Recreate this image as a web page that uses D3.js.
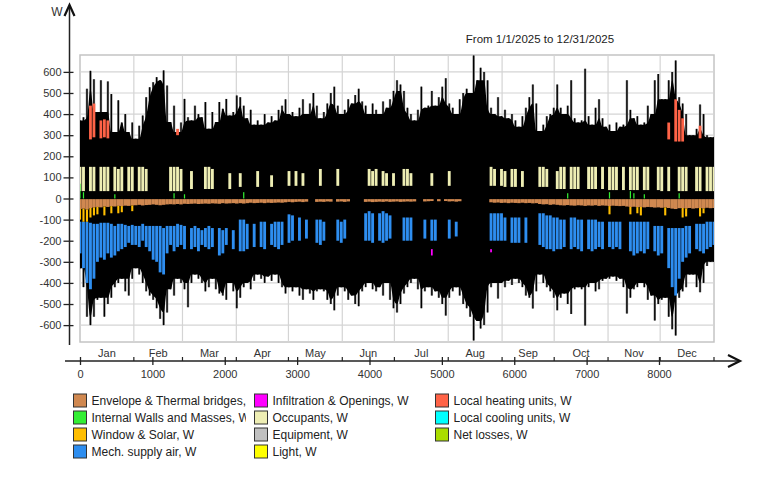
<!DOCTYPE html>
<html lang="en">
<head>
<meta charset="UTF-8">
<title>Heat balance</title>
<script src="https://d3js.org/d3.v7.min.js"></script>
<style>
  body { margin: 0; background: #fff; }
  text { font-family: "Liberation Sans", Arial, sans-serif; }
</style>
</head>
<body>
<script>
// values every 2 days (index i -> hour i*8760/182)
var topW = [370,385,520,605,565,410,560,410,555,495,315,465,360,400,315,360,283,345,393,480,527,551,575,560,607,535,362,440,315,360,472,385,370,440,400,385,457,330,410,362,457,425,472,393,410,488,
  480,440,380,420,350,370,350,400,360,390,370,420,440,470,400,410,390,430,470,400,450,500,440,380,410,450,500,530,440,400,420,470,450,490,520,460,440,400,450,420,400,460,430,470,510,560,
  540,510,430,400,370,420,530,430,440,510,440,480,530,570,450,430,400,470,500,520,500,678,560,620,600,560,430,400,480,390,420,380,400,370,340,390,430,480,540,450,320,350,390,400,430,540,
  430,400,440,560,380,360,370,615,390,350,430,470,380,340,350,320,360,340,350,560,420,380,390,350,360,440,400,560,590,470,470,560,600,654,480,450,400,300,300,330,445,400,300,290,290];
var botW = [-330,-420,-560,-600,-560,-480,-470,-560,-500,-470,-420,-400,-380,-440,-460,-380,-330,-360,-400,-440,-460,-480,-520,-570,-600,-540,-430,-460,-380,-400,-430,-515,-400,-360,-380,-400,-440,-420,-380,-430,-450,-460,-480,-400,-440,-520,
  -470,-420,-400,-430,-390,-360,-380,-400,-370,-390,-360,-400,-420,-450,-420,-440,-420,-460,-480,-430,-450,-480,-440,-430,-440,-480,-500,-530,-460,-420,-440,-480,-460,-500,-510,-440,-420,-400,-430,-440,-420,-460,-400,-480,-520,-540,
  -500,-450,-420,-400,-380,-430,-520,-440,-420,-460,-440,-470,-500,-555,-470,-440,-420,-460,-500,-520,-560,-673,-580,-616,-600,-540,-420,-400,-474,-400,-420,-390,-410,-380,-400,-420,-460,-470,-521,-440,-360,-400,-420,-440,-470,-530,
  -470,-450,-500,-547,-430,-420,-430,-602,-420,-400,-440,-430,-390,-380,-380,-370,-390,-380,-420,-545,-470,-430,-420,-400,-420,-480,-460,-578,-500,-480,-470,-560,-620,-649,-470,-440,-420,-360,-360,-420,-444,-400,-320,-300,-300];

// Occupants, visible top (0 = hidden behind outlines)
var occTop = [150,150,0,150,150,0,150,150,150,0,150,140,150,0,150,150,0,150,150,140,0,0,0,0,0,0,150,150,150,140,0,0,130,0,0,0,150,150,140,0,0,0,0,120,0,0,
  120,0,0,0,0,130,0,0,0,110,0,0,0,0,130,0,130,0,120,0,0,0,0,140,0,0,0,0,140,0,0,0,0,0,0,0,0,140,130,140,0,130,120,0,120,0,
  0,140,140,120,0,0,0,0,0,120,0,0,0,0,130,0,0,0,0,0,0,0,0,0,0,0,150,140,0,140,130,0,140,140,0,130,0,0,0,0,150,150,140,0,0,130,
  150,150,0,150,150,150,0,0,150,150,150,0,150,0,150,150,150,0,150,0,150,150,150,0,150,150,0,0,150,150,0,150,0,0,150,150,150,0,0,150,150,0,150,150,150];
// Occupants, visible base per month
var occBase = [35,35,45,55,60,60,60,60,55,45,40,35];

// Envelope & Thermal bridges (0 = hidden)
var envBot = [-50,-48,-52,-45,-42,-40,-42,-38,-40,-36,-38,-35,-36,-34,-35,-33,
  -32,-30,-33,-31,-30,-28,-30,-32,-30,-28,-27,-28,-26,-28,-25,-26,-25,-24,-26,-25,-24,-25,-23,-24,-25,-22,-24,-23,-22,-24,
  -22,-24,-22,-20,-22,-21,-20,-22,-20,-21,-20,-19,-20,-18,
  -16,-18,-16,-15,-17,-15,0,0,-16,-15,-16,-14,-15,0,-15,-14,-16,-14,0,0,0,0,
  -16,-15,-17,-16,-15,-16,-14,-16,-15,-14,
  -16,-15,-14,-15,-14,0,0,-14,-13,-12,0,-13,0,-12,-14,-13,-15,-13,0,0,0,0,0,0,0,0,
  -18,-20,-19,-21,-20,-22,-20,-21,-22,-20,-22,-21,-23,-22,-26,-28,-27,-30,-28,-30,
  -32,-33,-31,-33,-34,-32,-33,-35,-33,-34,-32,-35,-33,-34,-36,-34,-35,-36,-35,
  -38,-40,-39,-41,-40,-42,-40,-41,-43,-42,-44,-42,-45,-48,-50,
  -46,-45,-47,-45,-48,-46,-45,-47,-44,-46,-45];

// Mech. supply air, visible top and bottom (0 = hidden)
var airTop = [-110,-110,-110,-115,-120,-120,-115,-115,-115,-120,-130,-120,-120,-125,-130,-125,-130,-130,-120,-130,-130,-130,-130,-130,-140,-130,-130,-130,-120,-125,-130,0,-140,-130,-140,-150,-140,-130,-140,0,-140,-150,-140,0,-150,0,
  -100,-100,-120,0,-120,0,-110,-110,0,-120,-110,-110,-110,0,-75,-80,0,-90,0,-100,0,0,-100,-100,-110,0,0,0,-100,-110,-100,0,0,0,0,0,-70,-60,-70,0,-70,-60,-70,-80,0,0,
  0,-90,-90,-90,0,0,0,-100,0,-100,-100,0,0,0,-100,0,-110,0,0,0,0,0,0,0,0,0,-70,-70,-70,-70,-90,0,-90,-90,-90,0,-90,0,0,0,-70,-70,-80,-80,-90,-90,
  -100,-100,0,-90,-90,-100,-100,0,-100,-100,-100,-110,-110,0,-110,-110,-110,-110,0,0,-110,-110,-110,-110,-110,-110,0,-130,-130,-130,0,-140,-140,-140,-140,-140,-130,-130,0,-120,-120,-120,-110,-110,-110];
var airBot = [-260,-330,-400,-430,-380,-300,-280,-290,-260,-280,-270,-250,-240,-230,-210,-220,-220,-230,-200,-230,-250,-290,-300,-350,-360,-260,-220,-250,-230,-220,-240,0,-240,-230,-250,-220,-230,-240,-230,0,-270,-260,-220,0,-240,0,
  -250,-250,-240,0,-230,0,-230,-240,0,-220,-230,-240,-220,0,-210,-200,0,-200,0,-190,0,0,-210,-220,-200,0,0,0,-200,-210,-190,0,0,0,0,0,-200,-200,-210,0,-200,-210,-200,-190,0,0,
  0,-200,-200,-200,0,0,0,-190,0,-200,-200,0,0,0,-190,0,-180,0,0,0,0,0,0,0,0,0,-200,-200,-200,-200,-200,0,-210,-210,-210,0,-210,0,0,0,-220,-230,-240,-240,-250,-240,
  -240,-230,0,-240,-230,-240,-250,0,-240,-250,-240,-230,-240,0,-230,-240,-230,-240,0,0,-250,-270,-260,-250,-260,-240,0,-250,-270,-260,0,-330,-420,-460,-380,-300,-280,-260,0,-240,-250,-260,-240,-230,-220];

// sparse series: index, value(s)
var solarIdx = [0,1,2,3,4,5,7,9,11,12,15,152,158,160,161,168,173,174,178,179];
var solarW   = [-100,-110,-110,-90,-80,-75,-80,-70,-70,-65,-60,-75,-75,-70,-80,-80,-90,-85,-85,-70];
var heatIdx  = [3,4,6,7,8,28,169,171,172,173,178];
var heatLo   = [280,290,285,290,285,300,280,270,270,270,285];
var heatHi   = [440,450,370,375,370,330,360,470,420,380,345];
var wallIdx  = [0,1,10,27,30,47,140,152,158,159,162,172];
var wallW    = [70,30,20,25,20,30,25,30,35,25,20,25];
var infIdx   = [101,118];
var infLo    = [-270,-255];
var infHi    = [-240,-240];

var monthEdges = [0,744,1416,2160,2880,3624,4344,5088,5832,6552,7296,8016,8760];
var monthNames = ["Jan","Feb","Mar","Apr","May","Jun","Jul","Aug","Sep","Oct","Nov","Dec"];
var yTicks = [-600,-500,-400,-300,-200,-100,0,100,200,300,400,500,600];
var xTicks = [0,1000,2000,3000,4000,5000,6000,7000,8000];

var legendNames = ["Envelope & Thermal bridges, W","Internal Walls and Masses, W","Window & Solar, W","Mech. supply air, W",
  "Infiltration & Openings, W","Occupants, W","Equipment, W","Light, W",
  "Local heating units, W","Local cooling units, W","Net losses, W"];
var legendColors = ["#D08850","#33EE33","#FFBE00","#2E8EF0","#FF00FF","#EEEEB4","#C0C0C0","#FFFF00","#FF6347","#00FFFF","#AADD00"];

var width = 768, height = 483;
var svg = d3.select("body").append("svg").attr("width", width).attr("height", height);

var xs = d3.scaleLinear().domain([0, 8760]).range([80, 714]);
var ys = d3.scaleLinear().domain([-680, 680]).range([342, 55]);
var step = 8760 / (topW.length - 1);
function hourOf(i) { return i * step; }
function monthOf(i) { var h = hourOf(i); var m = 0; while (m < 11 && h >= monthEdges[m + 1]) m++; return m; }

// plot frame + grid
svg.append("rect").attr("x", 80).attr("y", 55).attr("width", 634).attr("height", 287)
  .attr("fill", "#fff").attr("stroke", "#c4c4c4").attr("stroke-width", 1.5);
svg.append("g").selectAll("line").data(yTicks).join("line")
  .attr("x1", 80).attr("x2", 714).attr("y1", d => ys(d)).attr("y2", d => ys(d))
  .attr("stroke", "#d4d4d4").attr("stroke-width", 1.2);
svg.append("g").selectAll("line").data(monthEdges.slice(1, 12)).join("line")
  .attr("x1", d => xs(d)).attr("x2", d => xs(d)).attr("y1", 55).attr("y2", 342)
  .attr("stroke", "#d4d4d4").attr("stroke-width", 1.2);

svg.append("defs").append("clipPath").attr("id", "plotclip").append("rect")
  .attr("x", 80).attr("y", 55).attr("width", 634).attr("height", 287);
var g = svg.append("g").attr("clip-path", "url(#plotclip)");

// peaks: thin hourly spikes, gray edged
var spikes = g.append("g");
[["#8a8a8a", 2.4], ["#000", 1.3]].forEach(function (s) {
  spikes.append("g").selectAll("line").data(topW).join("line")
    .attr("x1", (d, i) => xs(hourOf(i))).attr("x2", (d, i) => xs(hourOf(i)))
    .attr("y1", d => ys(d)).attr("y2", (d, i) => ys(botW[i]))
    .attr("stroke", s[0]).attr("stroke-width", s[1]);
});

// black body of the hourly outlines: runs along the valleys between peaks
function valley(arr, pick) {
  return arr.map((d, i) => pick(arr[Math.max(i - 1, 0)], d, arr[Math.min(i + 1, arr.length - 1)]));
}
var bodyTop = valley(topW, Math.min);
var bodyBot = valley(botW, Math.max);
var area = d3.area()
  .curve(d3.curveMonotoneX)
  .x((d, i) => xs(hourOf(i)))
  .y0((d, i) => ys(bodyBot[i]))
  .y1(d => ys(d));
g.append("path").datum(bodyTop).attr("d", area).attr("fill", "#000");

var stepPx = xs(step) - xs(0);
function bars(rows, color, frac) {
  var bw = stepPx * frac;
  g.append("g").selectAll("rect").data(rows).join("rect")
    .attr("x", d => xs(hourOf(d.i)) - bw / 2)
    .attr("width", bw)
    .attr("y", d => ys(Math.max(d.lo, d.hi)))
    .attr("height", d => Math.abs(ys(d.lo) - ys(d.hi)))
    .attr("fill", color);
}

bars(envBot.map((v, i) => ({i: i, lo: v, hi: -3})).filter(d => d.lo < 0), "#D08850", 1.02);
bars(airTop.map((v, i) => ({i: i, lo: airBot[i], hi: v})).filter(d => d.hi < 0), "#2E8EF0", 0.82);
bars(occTop.map((v, i) => ({i: i, lo: occBase[monthOf(i)], hi: v})).filter(d => d.hi > 0), "#EEEEB4", 0.82);
bars(solarIdx.map((k, j) => ({i: k, lo: solarW[j], hi: envBot[k] || -40})), "#FFBE00", 0.6);
bars(heatIdx.map((k, j) => ({i: k, lo: heatLo[j], hi: heatHi[j]})), "#FF6347", 0.8);
bars(wallIdx.map((k, j) => ({i: k, lo: 0, hi: wallW[j]})), "#33EE33", 0.35);
bars(infIdx.map((k, j) => ({i: k, lo: infLo[j], hi: infHi[j]})), "#FF00FF", 0.5);

// y axis
var yAx = svg.append("g").attr("transform", "translate(69.5,0)")
  .call(d3.axisLeft(ys).tickValues(yTicks).tickSize(6).tickPadding(2).tickFormat(d => String(d)));
yAx.select(".domain").remove();
yAx.selectAll(".tick line").attr("x1", 4).attr("stroke", "#222").attr("stroke-width", 1.3);
yAx.selectAll(".tick text").attr("font-size", 11).attr("fill", "#333")
  .style("font-family", "'Liberation Sans', Arial, sans-serif");
svg.append("line").attr("x1", 69.5).attr("x2", 69.5).attr("y1", 345).attr("y2", 6)
  .attr("stroke", "#222").attr("stroke-width", 1.5);
svg.append("path").attr("d", "M64.5,16 L69.5,5 L74.5,16").attr("fill", "none")
  .attr("stroke", "#111").attr("stroke-width", 2.2);
svg.append("text").attr("x", 57).attr("y", 16).attr("text-anchor", "middle")
  .attr("font-size", 12).attr("fill", "#333").text("W");

// x axis
var xAx = svg.append("g").attr("transform", "translate(0,361)")
  .call(d3.axisBottom(xs).tickValues(xTicks).tickSize(4).tickPadding(5).tickFormat(d => String(d)));
xAx.select(".domain").remove();
xAx.selectAll(".tick line").attr("y1", -4).attr("stroke", "#222").attr("stroke-width", 1.3);
xAx.selectAll(".tick text").attr("font-size", 11).attr("fill", "#333")
  .style("font-family", "'Liberation Sans', Arial, sans-serif");
svg.append("line").attr("x1", 65).attr("x2", 739).attr("y1", 361).attr("y2", 361)
  .attr("stroke", "#222").attr("stroke-width", 1.5);
svg.append("path").attr("d", "M728,355 L740,361 L728,367").attr("fill", "none")
  .attr("stroke", "#111").attr("stroke-width", 2.2);
svg.append("g").selectAll("line").data(monthEdges.slice(1)).join("line")
  .attr("x1", d => xs(d)).attr("x2", d => xs(d)).attr("y1", 357).attr("y2", 361)
  .attr("stroke", "#222").attr("stroke-width", 1.2);
svg.append("g").selectAll("text").data(monthNames).join("text")
  .attr("x", (d, i) => xs((monthEdges[i] + monthEdges[i + 1]) / 2))
  .attr("y", 357).attr("text-anchor", "middle").attr("font-size", 11).attr("fill", "#333")
  .text(d => d);

// title
svg.append("text").attr("x", 540).attr("y", 43).attr("text-anchor", "middle")
  .attr("font-size", 11.5).attr("fill", "#222").text("From 1/1/2025 to 12/31/2025");

// legend
svg.select("defs").append("clipPath").attr("id", "legclip").append("rect")
  .attr("x", 0).attr("y", 380).attr("width", 246).attr("height", 100);
var colX = [73, 254, 435];
var legend = svg.append("g");
legendNames.forEach(function (name, i) {
  var c = Math.floor(i / 4), r = i % 4;
  var cy = 400.5 + r * 17;
  var item = legend.append("g");
  item.append("rect").attr("x", colX[c] + 0.5).attr("y", cy - 6.5).attr("width", 13).attr("height", 13)
    .attr("fill", legendColors[i]).attr("stroke", "#333").attr("stroke-width", 1);
  var t = item.append("text").attr("x", colX[c] + 18.5).attr("y", cy + 4.5)
    .attr("font-size", 12).attr("fill", "#222").text(name);
  if (c === 0) t.attr("clip-path", "url(#legclip)");
});
</script>
</body>
</html>
